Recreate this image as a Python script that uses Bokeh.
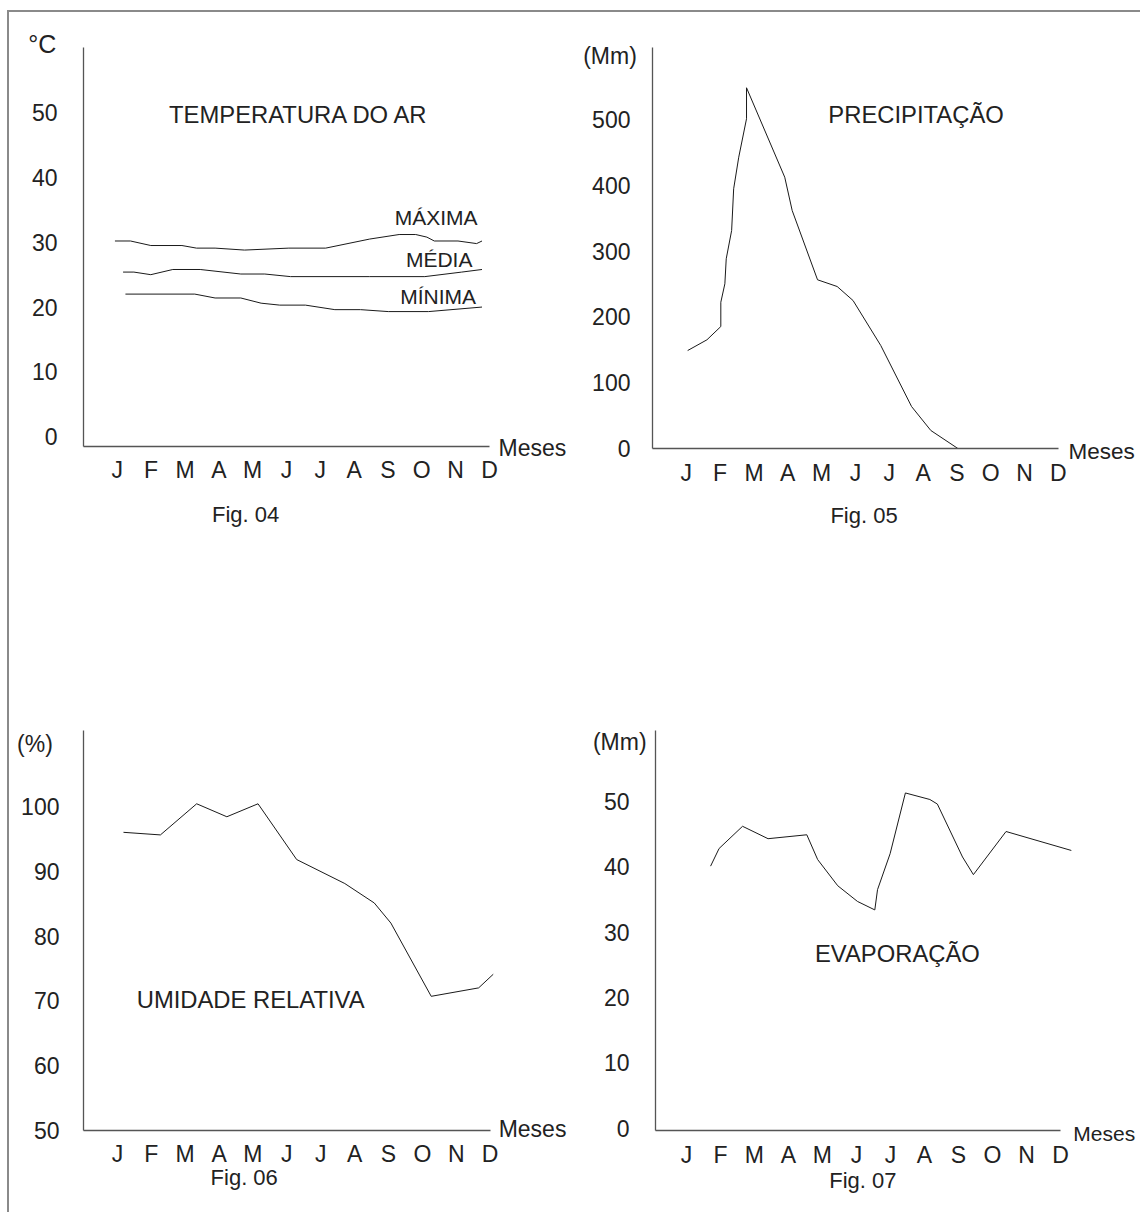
from bokeh.plotting import figure
from bokeh.models import Range1d, FixedTicker, Label
from bokeh.layouts import column, row
from bokeh.embed import file_html
from bokeh.resources import INLINE

# ---------------- data ----------------
months = ["J", "F", "M", "A", "M", "J", "J", "A", "S", "O", "N", "D"]

# Fig. 04 - air temperature (°C), x in month units (J = 1)
tmax_x = [0.93, 1.39, 1.99, 2.91, 3.34, 3.89, 4.76, 6.07, 7.16, 8.46, 9.33, 9.82, 10.15, 10.37, 11.07, 11.62, 11.78]
tmax_y = [30.2, 30.2, 29.5, 29.5, 29.1, 29.1, 28.8, 29.1, 29.1, 30.5, 31.2, 31.2, 30.8, 30.2, 30.2, 29.8, 30.2]
tmed_x = [1.17, 1.49, 1.99, 2.64, 3.45, 4.65, 5.36, 6.12, 8.46, 10.09, 11.18, 11.78]
tmed_y = [25.4, 25.4, 25.0, 25.8, 25.8, 25.1, 25.1, 24.7, 24.7, 24.7, 25.4, 25.8]
tmin_x = [1.24, 3.29, 3.89, 4.65, 5.25, 5.80, 6.56, 7.43, 8.19, 9.01, 10.20, 11.78]
tmin_y = [22.0, 22.0, 21.4, 21.4, 20.6, 20.3, 20.3, 19.6, 19.6, 19.3, 19.3, 20.0]
temp_ticks = [0, 10, 20, 30, 40, 50]

# Fig. 05 - precipitation (mm)
prec_x = [1.04, 1.61, 2.02, 2.02, 2.14, 2.18, 2.34, 2.40, 2.55, 2.78, 2.78, 3.91, 4.13,
          4.88, 5.46, 5.93, 6.75, 7.66, 8.23, 9.03]
prec_y = [148.9, 165.2, 185.4, 222.3, 250.3, 288.3, 331.3, 394.7, 442.7, 501.1, 548.2, 412.3, 361.7,
          256.4, 246.2, 224.9, 156.5, 63.8, 27.4, 0.0]
prec_ticks = [0, 100, 200, 300, 400, 500]

# Fig. 06 - relative humidity (%)
hum_x = [1.18, 2.27, 3.34, 4.23, 5.15, 6.29, 7.71, 8.58, 9.07, 10.26, 11.66, 12.09]
hum_y = [96.0, 95.6, 100.4, 98.4, 100.4, 91.8, 88.1, 85.1, 82.0, 70.7, 72.0, 74.1]
hum_ticks = [50, 60, 70, 80, 90, 100]

# Fig. 07 - evaporation (mm)
evap_x = [1.71, 1.96, 2.65, 3.40, 4.54, 4.86, 5.45, 6.03, 6.54, 6.62, 6.99, 7.44, 8.16, 8.38,
          9.12, 9.44, 10.40, 12.32]
evap_y = [40.1, 42.8, 46.2, 44.3, 44.9, 41.1, 37.1, 34.7, 33.4, 36.5, 42.0, 51.3, 50.3, 49.6,
          41.5, 38.8, 45.4, 42.5]
evap_ticks = [0, 10, 20, 30, 40, 50]

FONT = "Liberation Sans"
TXT = "#222222"
LINE = "#1a1a1a"
AXIS = "#555555"


def panel(w, h, xr, yr, xaxis_at, yaxis_at, ybounds, yticks, ystandoff):
    p = figure(width=w, height=h, x_range=Range1d(*xr), y_range=Range1d(*yr),
               output_backend="svg", toolbar_location=None,
               min_border_left=0, min_border_right=0, min_border_top=0, min_border_bottom=0)
    p.grid.visible = False
    p.outline_line_color = None
    p.background_fill_color = "white"
    p.border_fill_color = "white"
    p.xaxis.fixed_location = xaxis_at
    p.yaxis.fixed_location = yaxis_at
    p.xaxis.ticker = FixedTicker(ticks=list(range(1, 13)))
    p.xaxis.major_label_overrides = {i + 1: m for i, m in enumerate(months)}
    p.xaxis.bounds = (yaxis_at, 12)
    p.yaxis.ticker = FixedTicker(ticks=yticks)
    p.yaxis.bounds = ybounds
    for ax in p.axis:
        ax.major_tick_line_color = None
        ax.minor_tick_line_color = None
        ax.axis_line_color = AXIS
        ax.axis_line_width = 1.3
        ax.major_label_text_font = FONT
        ax.major_label_text_font_size = "23px"
        ax.major_label_text_color = TXT
    p.xaxis.major_label_standoff = 5
    p.yaxis.major_label_standoff = ystandoff
    return p


def label(p, x, y, text, size="23px"):
    p.add_layout(Label(x=x, y=y, text=text, text_font=FONT, text_font_size=size,
                       text_color=TXT, text_baseline="middle", text_align="left"))


# Fig. 04
p1 = panel(567, 600, (-2.187, 14.573), (-27.16, 65.48), -1.529, 0, (-1.529, 60.12), temp_ticks, 20)
p1.line(tmax_x, tmax_y, line_color=LINE, line_width=1)
p1.line(tmed_x, tmed_y, line_color=LINE, line_width=1)
p1.line(tmin_x, tmin_y, line_color=LINE, line_width=1)
label(p1, -1.63, 60.54, "°C", "25px")
label(p1, 2.53, 49.79, "TEMPERATURA DO AR", "23.8px")
label(p1, 9.20, 33.83, "MÁXIMA", "21px")
label(p1, 9.53, 27.4, "MÉDIA", "21px")
label(p1, 9.36, 21.63, "MÍNIMA", "21px")
label(p1, 12.27, -1.76, "Meses")
label(p1, 3.80, -12.1, "Fig.  04", "22px")

# Fig. 05
p2 = panel(564, 600, (-2.247, 14.429), (-249.2, 662.6), 0, 0, (0, 609), prec_ticks, 16)
p2.line(prec_x, prec_y, line_color=LINE, line_width=1)
label(p2, -2.05, 596.5, "(Mm)")
label(p2, 5.20, 507.9, "PRECIPITAÇÃO", "23.8px")
label(p2, 12.30, -4.6, "Meses", "22.5px")
label(p2, 5.26, -101.1, "Fig.  05", "22px")

# Fig. 07 uses the same layout as Fig. 05; Fig. 06 as Fig. 04
p3 = panel(567, 600, (-2.183, 14.547), (37.35, 129.91), 50, 0, (50, 111.71), hum_ticks, 18)
p3.line(hum_x, hum_y, line_color=LINE, line_width=1)
label(p3, -1.96, 109.7, "(%)")
label(p3, 1.57, 70.26, "UMIDADE RELATIVA", "23.8px")
label(p3, 12.25, 50.26, "Meses")
label(p3, 3.75, 42.8, "Fig.  06", "22px")

p4 = panel(564, 600, (-2.234, 14.355), (-12.91, 78.92), -0.367, 0.09, (-0.367, 60.9), evap_ticks, 20)
p4.line(evap_x, evap_y, line_color=LINE, line_width=1)
label(p4, -1.75, 59.07, "(Mm)")
label(p4, 4.78, 26.7, "EVAPORAÇÃO", "23.8px")
label(p4, 12.38, -0.82, "Meses", "21px")
label(p4, 5.20, -8.01, "Fig.  07", "22px")

layout = column(row(p1, p2), row(p3, p4), margin=(10, 0, 0, 7),
                styles={"border-top": "2px solid #8a8a8a", "border-left": "2px solid #8a8a8a"})

open("out.html", "w").write(file_html(layout, INLINE))
